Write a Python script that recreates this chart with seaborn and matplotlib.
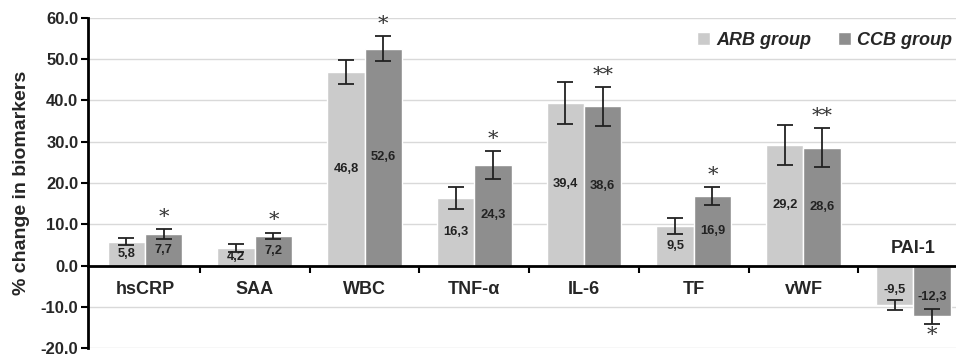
import matplotlib
matplotlib.use("Agg")
import matplotlib.pyplot as plt
import seaborn as sns
import pandas as pd
from matplotlib.ticker import FormatStrFormatter, FixedLocator

markers = ["hsCRP", "SAA", "WBC", "TNF-α", "IL-6", "TF", "vWF", "PAI-1"]
groups = ["ARB group", "CCB group"]
arb_values = [5.8, 4.2, 46.8, 16.3, 39.4, 9.5, 29.2, -9.5]
ccb_values = [7.7, 7.2, 52.6, 24.3, 38.6, 16.9, 28.6, -12.3]
arb_err = [0.8, 0.9, 2.9, 2.7, 5.2, 1.9, 4.9, 1.2]
ccb_err = [1.2, 0.8, 3.1, 3.4, 4.7, 2.2, 4.7, 1.8]
ccb_signif = ["*", "*", "*", "*", "**", "*", "**", "*"]
yticks = [-20, -10, 0, 10, 20, 30, 40, 50, 60]

sns.set_theme(style="white")
plt.rcParams["font.family"] = ["Liberation Sans", "DejaVu Sans"]
plt.rcParams["axes.unicode_minus"] = False

df = pd.DataFrame({
    "marker": markers * 2,
    "group": [groups[0]] * len(markers) + [groups[1]] * len(markers),
    "value": arb_values + ccb_values,
})

fig = plt.figure(figsize=(9.56, 3.56), dpi=100)
ax = fig.add_axes([88 / 956, 1 - 348 / 356, (956 - 88) / 956, (348 - 18) / 356])

sns.barplot(data=df, x="marker", y="value", hue="group", order=markers,
            hue_order=groups, palette=["#cbcbcb", "#8e8e8e"], width=0.68,
            errorbar=None, ax=ax, saturation=1, zorder=2)

ax.set_ylim(-20, 60)
ax.set_xlim(-0.52, 7.39)
ax.set_yticks(yticks)
ax.yaxis.set_major_formatter(FormatStrFormatter("%.1f"))
ax.yaxis.grid(True, color="#d9d9d9", linewidth=1, zorder=0)
ax.set_axisbelow(True)
for lab in ax.get_yticklabels():
    lab.set_fontweight("bold")
    lab.set_fontsize(12)
ax.tick_params(axis="y", direction="out", length=5, width=1.5, color="black", pad=2, left=True)

# bottom spine at zero with boundary ticks
ax.spines["bottom"].set_position(("data", 0))
ax.spines["bottom"].set_linewidth(2)
ax.spines["bottom"].set_color("black")
ax.spines["left"].set_linewidth(2)
ax.spines["left"].set_color("black")
ax.spines["top"].set_visible(False)
ax.spines["right"].set_visible(False)
ax.xaxis.set_major_locator(FixedLocator([i + 0.5 for i in range(len(markers) - 1)]))
ax.set_xticklabels([""] * (len(markers) - 1))
ax.tick_params(axis="x", direction="out", length=5, width=1.5, color="black", bottom=True)
ax.set_xlabel("")
ax.set_ylabel("% change in biomarkers", fontsize=14, fontweight="bold", labelpad=8)

errs = [arb_err, ccb_err]
vals = [arb_values, ccb_values]
bar_containers = list(ax.containers)[:2]
for gi, cont in enumerate(bar_containers):
    for ci, bar in enumerate(cont.patches):
        cx = bar.get_x() + bar.get_width() / 2
        v = vals[gi][ci]
        e = errs[gi][ci]
        ax.errorbar(cx, v, yerr=e, fmt="none", ecolor="#222222", elinewidth=1.3,
                    capsize=6, capthick=1.3, zorder=4)
        ty = v / 2 if v >= 0 else v * 0.62
        ax.text(cx, ty, f"{v:.1f}".replace(".", ","), ha="center", va="center",
                fontsize=9.3, fontweight="bold", color="#222222", zorder=5)
        if gi == 1:
            if v >= 0:
                ax.text(cx, v + e + 0.5, ccb_signif[ci], ha="center", va="bottom",
                        fontsize=15, color="#333333", family="DejaVu Serif", zorder=5)
            else:
                ax.text(cx, v - e - 0.5, ccb_signif[ci], ha="center", va="top",
                        fontsize=15, color="#333333", family="DejaVu Serif", zorder=5)

for i, m in enumerate(markers):
    if min(arb_values[i], ccb_values[i]) >= 0:
        ax.text(i, -5.8, m, ha="center", va="center", fontsize=13, fontweight="bold")
    else:
        ax.text(i, 4.2, m, ha="center", va="center", fontsize=13, fontweight="bold")

leg = ax.legend(loc="upper right", bbox_to_anchor=(1.008, 0.99), frameon=False,
                handlelength=0.7, handleheight=0.7, handletextpad=0.35,
                columnspacing=1.5, ncol=2, borderaxespad=0.2,
                prop={"weight": "bold", "style": "italic", "size": 13})

fig.savefig("out.png", dpi=100)
